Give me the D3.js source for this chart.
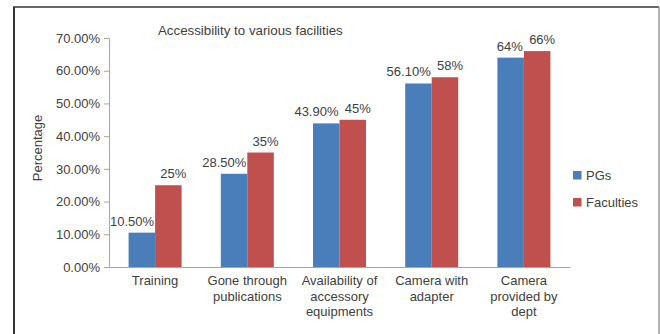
<!DOCTYPE html>
<html>
<head>
<meta charset="utf-8">
<script src="https://cdn.jsdelivr.net/npm/d3@7"></script>
<style>
  html, body { margin: 0; padding: 0; background: #fff; }
  svg { display: block; }
  text { font-family: "Liberation Sans", Arial, sans-serif; fill: #404040; }
</style>
</head>
<body>
<svg id="chart" width="660" height="334"></svg>
<script>
const categories = [
  ["Training"],
  ["Gone through", "publications"],
  ["Availability of", "accessory", "equipments"],
  ["Camera with", "adapter"],
  ["Camera", "provided by", "dept"]
];
const seriesNames = ["PGs", "Faculties"];
const pgValues = [10.5, 28.5, 43.9, 56.1, 64];
const facultyValues = [25, 35, 45, 58, 66];
const pgLabels = ["10.50%", "28.50%", "43.90%", "56.10%", "64%"];
const facultyLabels = ["25%", "35%", "45%", "58%", "66%"];
const yTicks = [0, 10, 20, 30, 40, 50, 60, 70];
const title = "Accessibility to various facilities";
const yTitle = "Percentage";
const colors = ["#4A7EBB", "#C0504D"];

const svg = d3.select("#chart");

// outer frame
svg.append("line").attr("x1", 14).attr("x2", 14).attr("y1", 7).attr("y2", 334)
  .attr("stroke", "#333").attr("stroke-width", 2);
svg.append("line").attr("x1", 13).attr("x2", 659).attr("y1", 7).attr("y2", 7)
  .attr("stroke", "#333").attr("stroke-width", 1.5);
svg.append("line").attr("x1", 659).attr("x2", 659).attr("y1", 7).attr("y2", 334)
  .attr("stroke", "#999").attr("stroke-width", 1.5);

const plot = { left: 109, right: 570, top: 38, bottom: 267 };

const keys = categories.map(c => c.join(" "));
const x0 = d3.scaleBand().domain(keys).range([plot.left, plot.right]).padding(0);
const bw = x0.bandwidth();
const barW = bw * 0.2875;
const x1 = d3.scaleBand().domain(seriesNames).range([bw / 2 - barW, bw / 2 + barW]).padding(0);
const y = d3.scaleLinear().domain([0, 70]).range([plot.bottom, plot.top]);

// y axis
const yAxis = svg.append("g")
  .attr("transform", `translate(${plot.left},0)`)
  .call(d3.axisLeft(y).tickValues(yTicks).tickFormat(d => d.toFixed(2) + "%").tickSize(5).tickSizeOuter(0).tickPadding(4));
yAxis.select(".domain").attr("stroke", "#a6a6a6");
yAxis.selectAll(".tick line").attr("stroke", "#a6a6a6");
yAxis.selectAll(".tick text").attr("font-size", 13).attr("fill", "#404040")
  .style("font-family", '"Liberation Sans", Arial, sans-serif');

// bars
const data = keys.map((k, i) => ({ key: k, vals: [pgValues[i], facultyValues[i]], labels: [pgLabels[i], facultyLabels[i]] }));
const groups = svg.append("g").selectAll("g").data(data).join("g")
  .attr("transform", d => `translate(${x0(d.key)},0)`);

groups.selectAll("rect").data(d => d.vals.map((v, j) => ({ s: seriesNames[j], v, j })))
  .join("rect")
  .attr("x", d => x1(d.s))
  .attr("width", x1.bandwidth())
  .attr("y", d => y(d.v))
  .attr("height", d => y(0) - y(d.v))
  .attr("fill", d => colors[d.j]);

// value labels
groups.selectAll("text.val").data(d => d.vals.map((v, j) => ({ s: seriesNames[j], v, j, label: d.labels[j] })))
  .join("text")
  .attr("class", "val")
  .attr("font-size", 13)
  .attr("text-anchor", d => d.j === 0 ? "end" : "middle")
  .attr("x", d => d.j === 0 ? bw / 2 - 1 : x1(d.s) + x1.bandwidth() / 2 + 5)
  .attr("y", d => y(d.v) - 7)
  .text(d => d.label);

// x axis
const xAxis = svg.append("g")
  .attr("transform", `translate(0,${plot.bottom})`)
  .call(d3.axisBottom(x0).tickSize(0).tickSizeOuter(0).tickFormat(""));
xAxis.select(".domain").attr("stroke", "#a6a6a6");

const catG = svg.append("g").selectAll("text").data(categories).join("text")
  .attr("font-size", 13)
  .attr("text-anchor", "middle")
  .attr("x", d => x0(d.join(" ")) + bw / 2)
  .attr("y", 285);
catG.selectAll("tspan").data(d => d).join("tspan")
  .attr("x", function() { return d3.select(this.parentNode).attr("x"); })
  .attr("dy", (d, i) => i === 0 ? 0 : 15.5)
  .text(d => d);

// title
svg.append("text").attr("x", 158).attr("y", 35).attr("font-size", 13.3).text(title);

// y title
svg.append("text").attr("transform", "translate(42,148) rotate(-90)")
  .attr("text-anchor", "middle").attr("font-size", 13).text(yTitle);

// legend
const leg = svg.append("g").selectAll("g").data(seriesNames).join("g")
  .attr("transform", (d, i) => `translate(573,${171 + i * 27})`);
leg.append("rect").attr("width", 8.5).attr("height", 8.5).attr("fill", (d, i) => colors[i]);
leg.append("text").attr("x", 13).attr("y", 9).attr("font-size", 13).text(d => d);
</script>
</body>
</html>
